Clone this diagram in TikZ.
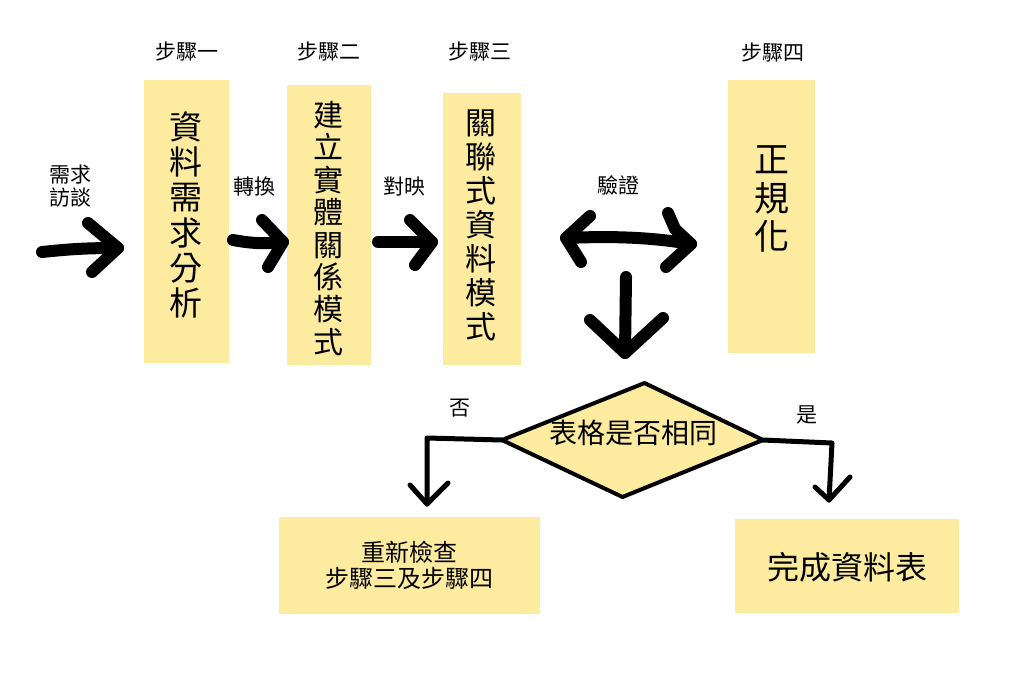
\documentclass[tikz,border=0pt]{standalone}
\usepackage{fontspec}
\setmainfont{Noto Sans CJK TC}
\usetikzlibrary{calc,shapes.geometric}
\definecolor{pad}{RGB}{253,235,160}
\tikzset{
  ybox/.style={fill=pad, draw=none, inner sep=0pt, outer sep=0pt},
  lbl/.style={inner sep=0pt, font=\fontsize{21}{23}\selectfont, align=center},
  vtext/.style={inner sep=0pt, align=center},
  hand/.style={line width=12pt, line cap=round, line join=round},
  thinhand/.style={line width=5pt, line cap=round, line join=round},
}
\begin{document}
\begin{tikzpicture}[x=1pt,y=-1pt]
\useasboundingbox (0,0) rectangle (1024,675);
\fill[white] (0,0) rectangle (1024,675);

% step labels
\node[lbl] (s1) at (187,51) {步驟一};
\node[lbl] (s2) at (329,51) {步驟二};
\node[lbl] (s3) at (480,51) {步驟三};
\node[lbl] (s4) at (773,52) {步驟四};

% boxes
\node[ybox, minimum width=85, minimum height=283] (b1) at (186.5,221.5) {};
\node[ybox, minimum width=84, minimum height=280] (b2) at (329,225) {};
\node[ybox, minimum width=78, minimum height=272] (b3) at (482,229) {};
\node[ybox, minimum width=87, minimum height=273] (b4) at (771.5,216.5) {};
\node[ybox, minimum width=261, minimum height=97] (b5) at (409,565.5) {};
\node[ybox, minimum width=224, minimum height=94] (b6) at (847,566) {};

\node[vtext, font=\fontsize{33}{35.2}\selectfont] (t1) at (186,215) {資\\料\\需\\求\\分\\析};
\node[vtext, font=\fontsize{30}{32.4}\selectfont] (t2) at (328,228.5) {建\\立\\實\\體\\關\\係\\模\\式};
\node[vtext, font=\fontsize{31}{34}\selectfont] (t3) at (481,225) {關\\聯\\式\\資\\料\\模\\式};
\node[vtext, font=\fontsize{35}{38.5}\selectfont] (t4) at (772,199) {正\\規\\化};
\node[vtext, font=\fontsize{24}{26}\selectfont] (t5) at (409,565) {重新檢查\\步驟三及步驟四};
\node[vtext, font=\fontsize{32}{34}\selectfont] (t6) at (847,567) {完成資料表};

% arrow labels
\node[lbl] (l0) at (70,186) {需求\\訪談};
\node[lbl] (l1) at (254,187) {轉換};
\node[lbl] (l2) at (404,187) {對映};
\node[lbl] (l3) at (618,185) {驗證};
\node[lbl] (lno) at (460,408) {否};
\node[lbl] (lyes) at (807,415) {是};

% big hand arrows
\coordinate (a0s) at (42,252); \coordinate (a0t) at (118,248);
\coordinate (a0u) at (88,223); \coordinate (a0d) at (92,272);
\draw[hand] (a0s) to[bend left=3] (a0t);
\draw[hand] (a0u) -- (a0t) -- (a0d);

\coordinate (a1s) at (233,240); \coordinate (a1t) at (283,242);
\coordinate (a1u) at (262,220); \coordinate (a1d) at (268,267);
\draw[hand] (a1s) to[bend right=8] (a1t);
\draw[hand] (a1u) -- (a1t) -- (a1d);

\coordinate (a2s) at (378,242); \coordinate (a2t) at (432,242);
\coordinate (a2u) at (410,220); \coordinate (a2d) at (415,265);
\draw[hand] (a2s) -- (a2t);
\draw[hand] (a2u) -- (a2t) -- (a2d);

% double arrow
\coordinate (dl) at (566,238); \coordinate (dr) at (691,244);
\draw[hand] (dl) .. controls (610,236) and (650,237) .. (dr);
\draw[hand] (590,216) -- (dl) -- (581,262);
\draw[hand] (668,213) -- (675,229) -- (dr) -- (666,267);

% down arrow
\coordinate (vs) at (626,277); \coordinate (vt) at (625,353);
\draw[hand] (vs) -- (vt);
\draw[hand] (590,320) -- (vt) -- (663,318);

% decision diamond
\node[diamond, draw=none, inner sep=0pt, outer sep=0pt, minimum width=261, minimum height=114] (d) at (632.5,440) {};
\filldraw[fill=pad, draw=black, line width=4pt, line join=round]
  ($(d.north)+(12,-0)$) -- (d.east) -- ($(d.south)+(-10,0)$) -- (d.west) -- cycle;
\node[vtext, font=\fontsize{28}{30}\selectfont] (dt) at (633,433) {表格是否相同};

% branches
\coordinate (nc) at (427,438); \coordinate (nt) at (427,504);
\draw[thinhand] (d.west) -- (nc) -- (nt);
\draw[thinhand] (410,485) -- (nt) -- (448,483);

\coordinate (yc) at (832,443); \coordinate (yt) at (829,500);
\draw[thinhand] (d.east) -- (yc) -- (yt);
\draw[thinhand] (815,487) -- (yt) -- (850,477);
\end{tikzpicture}
\end{document}
